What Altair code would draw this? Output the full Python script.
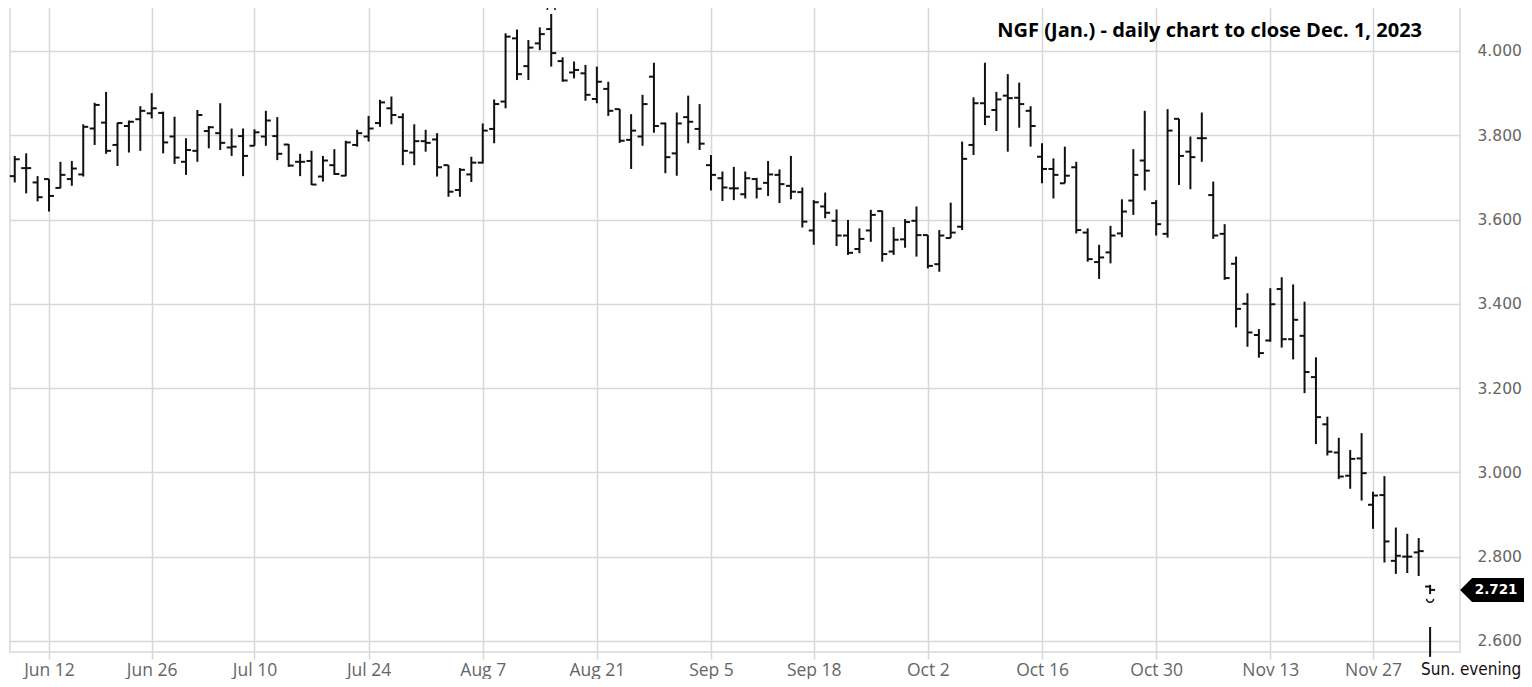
import altair as alt
import pandas as pd

# ---- data (NG Jan futures, daily OHLC) ----
highs = [3.751, 3.757, 3.703, 3.696, 3.737, 3.739, 3.826, 3.877, 3.903, 3.830,
         3.835, 3.869, 3.900, 3.856, 3.844, 3.793, 3.860, 3.822, 3.876, 3.816,
         3.816, 3.814, 3.858, 3.843, 3.779, 3.756, 3.763, 3.751, 3.767, 3.787,
         3.813, 3.846, 3.884, 3.892, 3.852, 3.826, 3.813, 3.805, 3.729, 3.722,
         3.749, 3.828, 3.885, 4.042, 4.051, 4.026, 4.056, 4.088, 3.985, 3.975,
         3.967, 3.963, 3.927, 3.862, 3.850, 3.896, 3.972, 3.830, 3.854, 3.894,
         3.874, 3.753, 3.714, 3.725, 3.714, 3.699, 3.739, 3.719, 3.751, 3.676,
         3.646, 3.664, 3.624, 3.599, 3.579, 3.623, 3.621, 3.582, 3.601, 3.631,
         3.563, 3.575, 3.640, 3.785, 3.890, 3.972, 3.903, 3.945, 3.925, 3.869,
         3.781, 3.745, 3.773, 3.737, 3.579, 3.540, 3.585, 3.648, 3.767, 3.858,
         3.646, 3.862, 3.839, 3.797, 3.854, 3.690, 3.589, 3.512, 3.425, 3.340,
         3.437, 3.463, 3.446, 3.405, 3.273, 3.132, 3.082, 3.053, 3.093, 2.954,
         2.991, 2.869, 2.854, 2.844, 2.733]
lows = [3.688, 3.662, 3.643, 3.619, 3.674, 3.680, 3.702, 3.777, 3.756, 3.727,
        3.759, 3.763, 3.840, 3.757, 3.732, 3.706, 3.737, 3.769, 3.765, 3.751,
        3.703, 3.775, 3.775, 3.741, 3.725, 3.703, 3.682, 3.690, 3.706, 3.703,
        3.773, 3.785, 3.820, 3.826, 3.729, 3.729, 3.761, 3.702, 3.654, 3.654,
        3.689, 3.733, 3.781, 3.864, 3.931, 3.931, 4.002, 3.963, 3.927, 3.935,
        3.882, 3.876, 3.846, 3.782, 3.720, 3.775, 3.806, 3.710, 3.704, 3.781,
        3.765, 3.669, 3.644, 3.646, 3.650, 3.650, 3.656, 3.639, 3.648, 3.581,
        3.540, 3.603, 3.537, 3.516, 3.520, 3.547, 3.500, 3.516, 3.533, 3.512,
        3.484, 3.476, 3.556, 3.575, 3.753, 3.824, 3.810, 3.761, 3.818, 3.773,
        3.686, 3.650, 3.686, 3.567, 3.500, 3.459, 3.496, 3.558, 3.611, 3.669,
        3.562, 3.557, 3.682, 3.672, 3.737, 3.554, 3.457, 3.344, 3.298, 3.272,
        3.310, 3.296, 3.268, 3.188, 3.067, 3.040, 2.984, 2.961, 2.933, 2.866,
        2.786, 2.759, 2.761, 2.754, 2.711]
opens = [3.703, 3.722, 3.688, 3.696, 3.675, 3.696, 3.707, 3.816, 3.830, 3.777,
         3.822, 3.838, 3.852, 3.853, 3.797, 3.737, 3.763, 3.810, 3.805, 3.771,
         3.798, 3.775, 3.797, 3.798, 3.778, 3.737, 3.739, 3.702, 3.729, 3.704,
         3.777, 3.797, 3.829, 3.864, 3.843, 3.759, 3.786, 3.790, 3.729, 3.670,
         3.707, 3.735, 3.815, 3.880, 4.030, 3.964, 4.018, 4.052, 3.976, 3.949,
         3.947, 3.886, 3.910, 3.862, 3.789, 3.797, 3.939, 3.828, 3.757, 3.843,
         3.815, 3.729, 3.698, 3.674, 3.660, 3.696, 3.687, 3.706, 3.680, 3.665,
         3.574, 3.631, 3.597, 3.562, 3.530, 3.574, 3.620, 3.524, 3.553, 3.597,
         3.563, 3.494, 3.556, 3.583, 3.777, 3.876, 3.860, 3.894, 3.889, 3.858,
         3.749, 3.720, 3.686, 3.724, 3.569, 3.499, 3.522, 3.567, 3.645, 3.740,
         3.639, 3.566, 3.839, 3.761, 3.793, 3.658, 3.566, 3.495, 3.400, 3.326,
         3.313, 3.435, 3.316, 3.324, 3.226, 3.114, 3.047, 2.992, 3.033, 2.923,
         2.946, 2.790, 2.800, 2.810, 2.729]
closes = [3.743, 3.722, 3.653, 3.656, 3.706, 3.721, 3.820, 3.872, 3.763, 3.829,
          3.832, 3.858, 3.864, 3.783, 3.747, 3.765, 3.848, 3.819, 3.782, 3.773,
          3.751, 3.807, 3.835, 3.756, 3.728, 3.737, 3.683, 3.740, 3.708, 3.783,
          3.805, 3.816, 3.878, 3.848, 3.763, 3.786, 3.782, 3.724, 3.666, 3.718,
          3.735, 3.811, 3.874, 4.034, 3.945, 4.008, 4.040, 3.995, 3.930, 3.955,
          3.896, 3.927, 3.858, 3.787, 3.811, 3.874, 3.822, 3.748, 3.828, 3.832,
          3.780, 3.706, 3.676, 3.674, 3.698, 3.673, 3.707, 3.684, 3.666, 3.595,
          3.641, 3.616, 3.562, 3.521, 3.554, 3.611, 3.518, 3.552, 3.594, 3.563,
          3.490, 3.562, 3.569, 3.744, 3.876, 3.844, 3.885, 3.888, 3.874, 3.822,
          3.720, 3.706, 3.704, 3.575, 3.506, 3.510, 3.562, 3.619, 3.706, 3.716,
          3.589, 3.811, 3.751, 3.748, 3.793, 3.562, 3.461, 3.388, 3.332, 3.283,
          3.399, 3.316, 3.362, 3.238, 3.131, 3.049, 2.990, 3.032, 2.998, 2.945,
          2.836, 2.802, 2.800, 2.813, 2.721]

tick_idx = [3, 12, 21, 31, 41, 51, 61, 70, 80, 90, 100, 110, 119]
tick_labels = ["Jun 12", "Jun 26", "Jul 10", "Jul 24", "Aug 7", "Aug 21", "Sep 5",
               "Sep 18", "Oct 2", "Oct 16", "Oct 30", "Nov 13", "Nov 27"]
y_ticks = [2.6, 2.8, 3.0, 3.2, 3.4, 3.6, 3.8, 4.0]

sun_idx = 124
sun_label = "Sun. evening"
sun_bar_top = [2.633]
sun_bar_bottom = [2.562]
last_price = 2.721
peak_idx = 47
peak_marker = 4.097
low_marker = 2.700
title_text = "NGF (Jan.) - daily chart to close Dec. 1, 2023"

# ---- tables ----
df = pd.DataFrame({
    "i": list(range(len(highs))),
    "high": highs, "low": lows, "open": opens, "close": closes,
})
sun_df = pd.DataFrame({"i": [sun_idx], "top": sun_bar_top, "bottom": sun_bar_bottom,
                       "label": [sun_label]})
price_df = pd.DataFrame({"i": [sun_idx], "price": [last_price],
                         "txt": [f"{last_price:.3f}"]})
peak_df = pd.DataFrame({"i": [peak_idx], "v": [peak_marker]})
lowm_df = pd.DataFrame({"i": [sun_idx], "v": [low_marker]})
title_df = pd.DataFrame({"t": [title_text]})

GRID = "#d7d7d7"
INK = "#111111"

label_expr = ("[" + ",".join(f"'{s}'" for s in tick_labels) + "][indexof(["
              + ",".join(str(v) for v in tick_idx) + "], datum.value)]")

xscale = alt.Scale(domain=[-0.417, 126.62], nice=False, zero=False)
yscale = alt.Scale(domain=[2.5736, 4.1210], nice=False, zero=False)

xaxis = alt.Axis(values=tick_idx, labelExpr=label_expr, title=None, grid=True,
                 gridColor=GRID, gridWidth=1.5, tickColor=GRID, tickWidth=1.5,
                 tickSize=7, domain=False, labelFont="Open Sans",
                 labelFontSize=17.5, labelColor="#666666", labelPadding=2,
                 labelFlush=False, labelOverlap=False)
yaxis = alt.Axis(values=y_ticks, format=".3f", orient="right", title=None,
                 grid=True, gridColor=GRID, gridWidth=1.5, ticks=False,
                 tickSize=0, domain=False, labelFont="DejaVu Sans",
                 labelFontSize=15.5, labelColor="#666666", labelPadding=17,
                 labelAlign="left")

base = alt.Chart(df)

hl = base.mark_rule(color=INK, strokeWidth=2).encode(
    x=alt.X("i:Q", scale=xscale, axis=xaxis),
    y=alt.Y("low:Q", scale=yscale, axis=yaxis),
    y2="high:Q",
)
op = base.mark_tick(orient="horizontal", size=5, thickness=2, xOffset=-2.5,
                    color=INK, opacity=1).encode(
    x=alt.X("i:Q", scale=xscale), y=alt.Y("open:Q", scale=yscale))
cl = base.mark_tick(orient="horizontal", size=5, thickness=2, xOffset=2.5,
                    color=INK, opacity=1).encode(
    x=alt.X("i:Q", scale=xscale), y=alt.Y("close:Q", scale=yscale))

sun_bar = alt.Chart(sun_df).mark_rule(color=INK, strokeWidth=2).encode(
    x=alt.X("i:Q", scale=xscale), y=alt.Y("top:Q", scale=yscale), y2="bottom:Q")

sun_text = alt.Chart(sun_df).mark_text(
    align="left", baseline="middle", dx=-9,
    font="DejaVu Sans Condensed, DejaVu Sans", fontSize=17, color=INK
).encode(x=alt.X("i:Q", scale=xscale), y=alt.value(670), text="label:N")

peak_arc = alt.Chart(peak_df).mark_point(
    shape="M -1 0 A 1 1 0 0 1 1 0", size=64, filled=False, stroke=INK,
    strokeWidth=1.5, opacity=1
).encode(x=alt.X("i:Q", scale=xscale), y=alt.Y("v:Q", scale=yscale))

low_arc = alt.Chart(lowm_df).mark_point(
    shape="M -1 0 A 1 1 0 0 0 1 0", size=49, filled=False, stroke=INK,
    strokeWidth=1.5, opacity=1
).encode(x=alt.X("i:Q", scale=xscale), y=alt.Y("v:Q", scale=yscale))

price_box = alt.Chart(price_df).mark_point(
    shape="M -1 0 L -0.625 -0.375 L 1 -0.375 L 1 0.375 L -0.625 0.375 Z",
    size=4096, filled=True, color="#000000", opacity=1, xOffset=62
).encode(x=alt.X("i:Q", scale=xscale), y=alt.Y("price:Q", scale=yscale))

price_txt = alt.Chart(price_df).mark_text(
    font="DejaVu Sans", fontWeight="bold", fontSize=13.5, color="white",
    baseline="middle", align="center", xOffset=66
).encode(x=alt.X("i:Q", scale=xscale), y=alt.Y("price:Q", scale=yscale),
         text="txt:N")

title = alt.Chart(title_df).mark_text(
    font="Open Sans", fontWeight="bold", fontSize=20, color="#000000",
    align="right", baseline="alphabetic"
).encode(x=alt.value(1412), y=alt.value(36.7), text="t:N")

chart = alt.layer(hl, op, cl, sun_bar, peak_arc, low_arc, price_box, price_txt,
                  sun_text, title).properties(
    width=1450, height=652,
    padding={"left": 2, "top": -8, "right": 64, "bottom": 27},
    autosize=alt.AutoSizeParams(type="none"),
    background="white",
).configure_view(stroke=GRID, strokeWidth=1.5)

chart.save("out.html", embed_options={"renderer": "svg", "actions": False})
